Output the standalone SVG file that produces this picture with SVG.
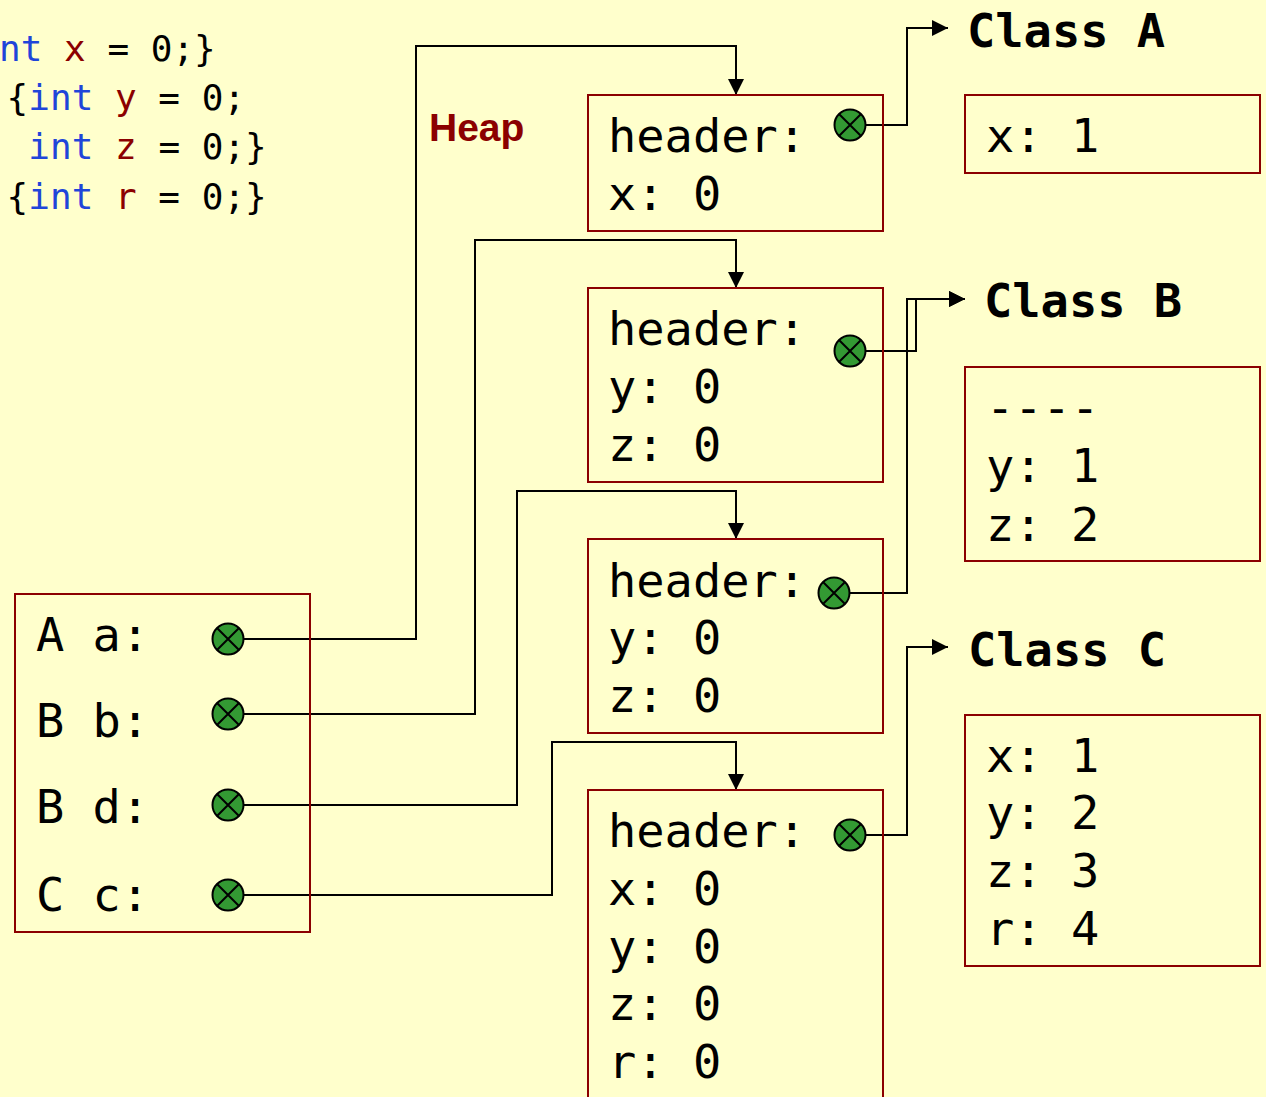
<svg xmlns="http://www.w3.org/2000/svg" width="1266" height="1097" viewBox="0 0 1266 1097">
<defs>
<style>
.bg{fill:#ffffcc}
.box{fill:none;stroke:#8b0000;stroke-width:2}
.mono{font-family:"DejaVu Sans Mono","Liberation Mono",monospace;font-size:47px;fill:#000}
.cls{font-family:"DejaVu Sans Mono","Liberation Mono",monospace;font-size:47px;font-weight:bold;fill:#000}
.code{font-family:"DejaVu Sans Mono","Liberation Mono",monospace;font-size:36px;fill:#000;white-space:pre}
.kw{fill:#1f45d9}
.var{fill:#8b0000}
.heap{font-family:"Liberation Sans",Arial,sans-serif;font-size:39px;font-weight:bold;fill:#8b0000}
.conn{fill:none;stroke:#000;stroke-width:2}
.ptr circle{fill:#339933;stroke:#000;stroke-width:2}
.ptr path{stroke:#000;stroke-width:2;fill:none}
</style>
<marker id="arr" markerUnits="userSpaceOnUse" markerWidth="17" markerHeight="17" refX="16" refY="8" orient="auto">
<path d="M0,0 L16,8 L0,16 z" fill="#000"/>
</marker>
<g id="ptrsym" class="ptr">
<circle cx="0" cy="0" r="15.5"/>
<path d="M-11,-11 L11,11 M-11,11 L11,-11"/>
</g>
</defs>
<rect class="bg" x="0" y="0" width="1266" height="1097"/>

<g id="code">
<text class="code" x="-1" y="61" xml:space="preserve"><tspan class="kw">nt</tspan> <tspan class="var">x</tspan> = 0;}</text>
<text class="code" x="6.6" y="110" xml:space="preserve">{<tspan class="kw">int</tspan> <tspan class="var">y</tspan> = 0;</text>
<text class="code" x="28.3" y="159" xml:space="preserve"><tspan class="kw">int</tspan> <tspan class="var">z</tspan> = 0;}</text>
<text class="code" x="6.6" y="209" xml:space="preserve">{<tspan class="kw">int</tspan> <tspan class="var">r</tspan> = 0;}</text>
</g>

<g id="heap-label"><text class="heap" x="429" y="141">Heap</text></g>

<g id="connectors">
<polyline class="conn" points="244,639 416,639 416,46 736,46 736,95" marker-end="url(#arr)"/>
<polyline class="conn" points="244,714 475,714 475,240 736,240 736,288" marker-end="url(#arr)"/>
<polyline class="conn" points="244,805 517,805 517,491 736,491 736,539" marker-end="url(#arr)"/>
<polyline class="conn" points="244,895 552,895 552,742 736,742 736,790" marker-end="url(#arr)"/>
<polyline class="conn" points="866,125 907,125 907,28 948,28" marker-end="url(#arr)"/>
<polyline class="conn" points="866,351 916,351 916,299 965,299" marker-end="url(#arr)"/>
<polyline class="conn" points="850,593 907,593 907,299 965,299" marker-end="url(#arr)"/>
<polyline class="conn" points="866,835 907,835 907,647 948,647" marker-end="url(#arr)"/>
</g>

<g id="stack">
<rect class="box" x="15" y="594" width="295" height="338"/>
<text class="mono" x="36" y="651" xml:space="preserve">A a:</text>
<text class="mono" x="36" y="737" xml:space="preserve">B b:</text>
<text class="mono" x="36" y="823" xml:space="preserve">B d:</text>
<text class="mono" x="36" y="911" xml:space="preserve">C c:</text>
<use href="#ptrsym" x="228" y="639"/>
<use href="#ptrsym" x="228" y="714"/>
<use href="#ptrsym" x="228" y="805"/>
<use href="#ptrsym" x="228" y="895"/>
</g>

<g id="objA">
<rect class="box" x="588" y="95" width="295" height="136"/>
<text class="mono" x="608" y="152">header:</text>
<text class="mono" x="608" y="210" xml:space="preserve">x: 0</text>
<use href="#ptrsym" x="850" y="125"/>
</g>

<g id="objB1">
<rect class="box" x="588" y="288" width="295" height="194"/>
<text class="mono" x="608" y="345">header:</text>
<text class="mono" x="608" y="403" xml:space="preserve">y: 0</text>
<text class="mono" x="608" y="461" xml:space="preserve">z: 0</text>
<use href="#ptrsym" x="850" y="351"/>
</g>

<g id="objB2">
<rect class="box" x="588" y="539" width="295" height="194"/>
<text class="mono" x="608" y="597">header:</text>
<text class="mono" x="608" y="654" xml:space="preserve">y: 0</text>
<text class="mono" x="608" y="712" xml:space="preserve">z: 0</text>
<use href="#ptrsym" x="834" y="593"/>
</g>

<g id="objC">
<rect class="box" x="588" y="790" width="295" height="330"/>
<text class="mono" x="608" y="847">header:</text>
<text class="mono" x="608" y="905" xml:space="preserve">x: 0</text>
<text class="mono" x="608" y="963" xml:space="preserve">y: 0</text>
<text class="mono" x="608" y="1020" xml:space="preserve">z: 0</text>
<text class="mono" x="608" y="1078" xml:space="preserve">r: 0</text>
<use href="#ptrsym" x="850" y="835"/>
</g>

<g id="classA">
<text class="cls" x="967" y="47">Class A</text>
<rect class="box" x="965" y="95" width="295" height="78"/>
<text class="mono" x="986" y="152" xml:space="preserve">x: 1</text>
</g>

<g id="classB">
<text class="cls" x="984" y="317">Class B</text>
<rect class="box" x="965" y="367" width="295" height="194"/>
<text class="mono" x="986" y="424">----</text>
<text class="mono" x="986" y="482" xml:space="preserve">y: 1</text>
<text class="mono" x="986" y="541" xml:space="preserve">z: 2</text>
</g>

<g id="classC">
<text class="cls" x="968" y="666">Class C</text>
<rect class="box" x="965" y="715" width="295" height="251"/>
<text class="mono" x="986" y="772" xml:space="preserve">x: 1</text>
<text class="mono" x="986" y="829" xml:space="preserve">y: 2</text>
<text class="mono" x="986" y="887" xml:space="preserve">z: 3</text>
<text class="mono" x="986" y="945" xml:space="preserve">r: 4</text>
</g>
</svg>
